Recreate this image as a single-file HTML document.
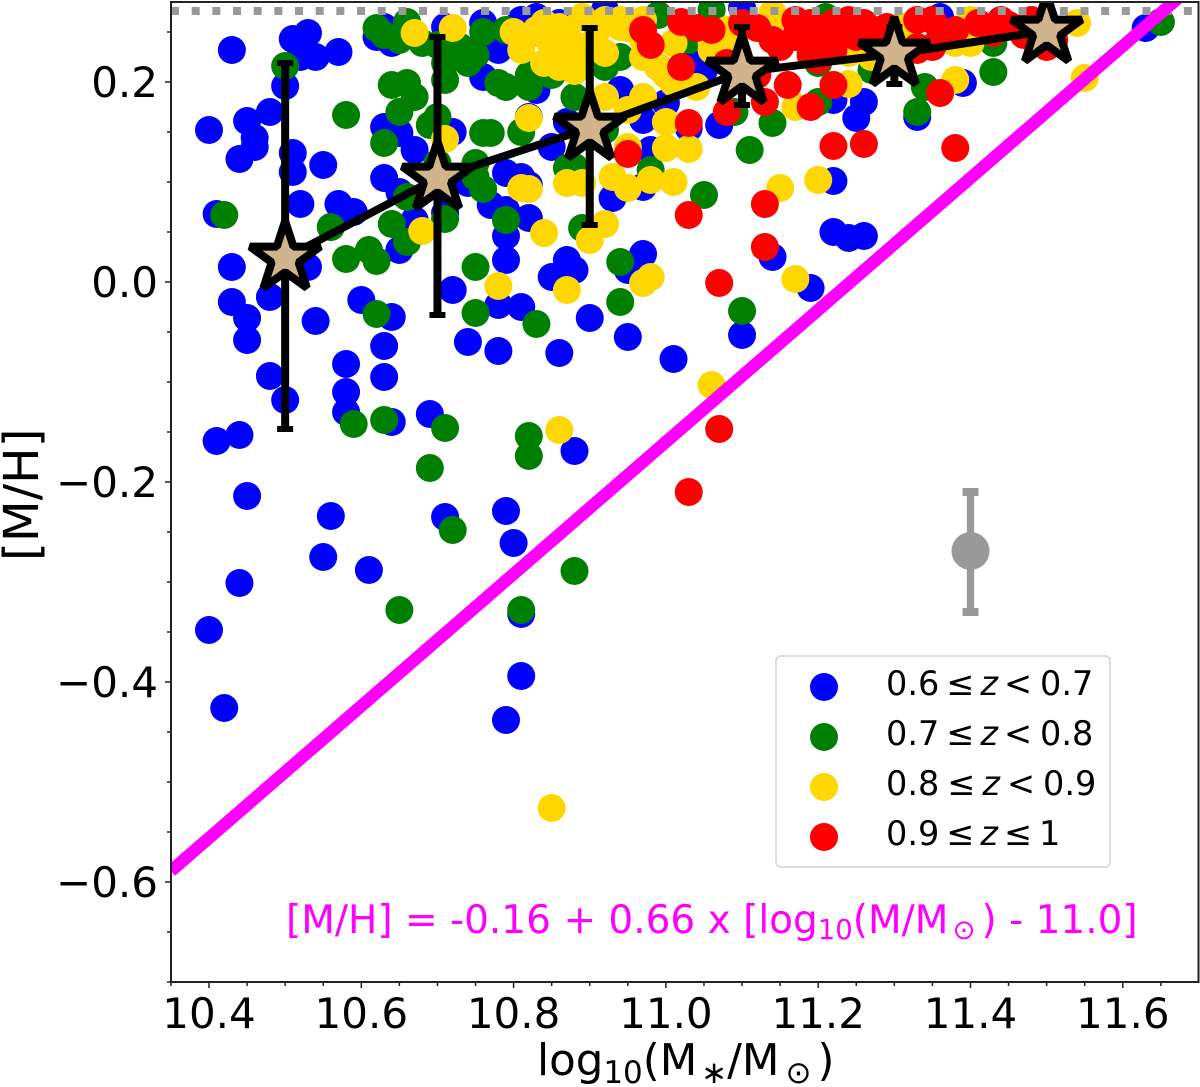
<!DOCTYPE html>
<html lang="en">
<head>
<meta charset="utf-8">
<title>Stellar metallicity vs stellar mass</title>
<style>
html,body{margin:0;padding:0;background:#fff;}
svg{display:block;}
text{font-family:"DejaVu Sans","Liberation Sans",sans-serif;fill:#000;}
</style>
</head>
<body>
<svg id="chart" xmlns="http://www.w3.org/2000/svg" width="1200" height="1087" viewBox="0 0 1200 1087">
  <defs>
    <clipPath id="plot-clip"><rect x="171" y="2" width="1027.5" height="980"/></clipPath>
  </defs>
  <rect x="0" y="0" width="1200" height="1087" fill="#fff"/>
  <g id="points" clip-path="url(#plot-clip)"></g>
  <g id="overlays" clip-path="url(#plot-clip)"></g>
  <rect x="171" y="2" width="1027.5" height="980" fill="none" stroke="#222" stroke-width="2"/>
  <g id="ticks"></g>

  <text x="537" y="1075" font-size="43.5">log<tspan font-size="31" dy="8">10</tspan><tspan dy="-8">(M</tspan><tspan font-size="31" dy="8" dx="4">∗</tspan><tspan dy="-8">/M</tspan><tspan font-size="31" dy="8" dx="6">⊙</tspan><tspan dy="-8" dx="6">)</tspan></text>
  <text transform="translate(38,561) rotate(-90)" font-size="48.5">[M/H]</text>

  <text x="286" y="933" font-size="39" style="fill:#ff00ff">[M/H] = -0.16 + 0.66 x [log<tspan font-size="27.5" dy="6">10</tspan><tspan dy="-6">(M/M</tspan><tspan font-size="27.5" dy="6" dx="4">⊙</tspan><tspan dy="-6" dx="6">) - 11.0]</tspan></text>

  <g>
    <rect x="776" y="656" width="334" height="211" rx="5" ry="5" fill="#fff" fill-opacity="0.9" stroke="#ddd" stroke-width="2"/>
    <circle cx="824" cy="687" r="14" fill="#0000ff"/>
    <circle cx="824" cy="737" r="14" fill="#008000"/>
    <circle cx="824" cy="787" r="14" fill="#ffd700"/>
    <circle cx="824" cy="837" r="14" fill="#ff0000"/>
    <text x="886" y="695" font-size="33.5">0.6<tspan dx="7">≤</tspan><tspan dx="6" font-style="italic">z</tspan><tspan dx="6">&lt;</tspan><tspan dx="8">0.7</tspan></text>
    <text x="886" y="745" font-size="33.5">0.7<tspan dx="7">≤</tspan><tspan dx="6" font-style="italic">z</tspan><tspan dx="6">&lt;</tspan><tspan dx="8">0.8</tspan></text>
    <text x="886" y="795" font-size="33.5">0.8<tspan dx="8">≤</tspan><tspan dx="7" font-style="italic">z</tspan><tspan dx="7">&lt;</tspan><tspan dx="8">0.9</tspan></text>
    <text x="886" y="845" font-size="33.5">0.9<tspan dx="7">≤</tspan><tspan dx="6" font-style="italic">z</tspan><tspan dx="6">≤</tspan><tspan dx="7">1</tspan></text>
  </g>
</svg>
<script>
const xTickLabels = ["10.4","10.6","10.8","11.0","11.2","11.4","11.6"];
const yTickLabels = ["0.2","0.0","−0.2","−0.4","−0.6"];
const yTickValues = [0.2,0,-0.2,-0.4,-0.6];

const pointsZ06 = [[10.40,-0.348],[10.42,-0.426],[10.44,-0.301],[10.45,-0.214],[10.41,-0.159],[10.44,-0.153],[10.50,-0.118],[10.48,-0.094],[10.48,-0.015],[10.43,-0.020],[10.43,0.015],[10.45,-0.058],[10.45,-0.036],[10.54,-0.039],[10.53,0.015],[10.58,-0.082],[10.58,-0.110],[10.58,-0.130],[10.60,-0.018],[10.63,-0.064],[10.63,-0.095],[10.64,-0.035],[10.64,-0.140],[10.55,-0.275],[10.56,-0.234],[10.61,-0.288],[10.69,-0.132],[10.71,-0.235],[10.79,-0.229],[10.80,-0.261],[10.81,-0.332],[10.81,-0.394],[10.79,-0.438],[10.88,-0.169],[10.72,-0.008],[10.74,-0.060],[10.78,-0.069],[10.78,-0.023],[10.81,-0.025],[10.86,-0.071],[10.90,-0.036],[10.95,-0.055],[11.01,-0.077],[11.10,-0.053],[11.19,-0.006],[11.14,0.025],[10.97,0.028],[10.95,0.012],[10.85,0.005],[10.87,0.022],[10.88,0.012],[10.79,0.022],[10.79,0.046],[10.79,0.072],[11.22,0.101],[11.22,0.050],[11.24,0.044],[11.26,0.046],[11.25,0.164],[10.43,0.232],[10.50,0.196],[10.51,0.243],[10.53,0.249],[10.52,0.225],[10.54,0.225],[10.57,0.230],[10.48,0.170],[10.45,0.161],[10.40,0.152],[10.46,0.144],[10.46,0.135],[10.44,0.123],[10.51,0.129],[10.51,0.110],[10.55,0.117],[10.52,0.078],[10.41,0.068],[10.57,0.078],[10.59,0.070],[10.56,0.055],[10.63,0.155],[10.65,0.149],[10.72,0.150],[10.67,0.132],[10.63,0.104],[10.65,0.090],[10.74,0.099],[10.71,0.069],[10.67,0.062],[10.65,0.032],[10.79,0.109],[10.81,0.105],[10.82,0.097],[10.77,0.077],[10.82,0.064],[10.85,0.135],[10.83,0.192],[10.82,0.165],[10.87,0.160],[10.76,0.205],[10.78,0.232],[10.62,0.245],[10.63,0.255],[10.64,0.239],[10.71,0.255],[10.76,0.259],[10.81,0.262],[10.83,0.265],[10.86,0.259],[10.88,0.229],[10.94,0.189],[11.00,0.179],[10.97,0.162],[11.03,0.154],[11.07,0.157],[10.98,0.132],[10.93,0.084],[10.97,0.095],[11.22,0.182],[11.26,0.180],[11.39,0.199],[11.33,0.165],[11.63,0.254],[11.36,0.265],[10.92,0.272],[11.10,0.274],[11.03,0.225],[11.05,0.212],[10.94,0.192]];

const pointsZ07 = [[10.50,0.216],[10.58,0.167],[10.42,0.067],[10.56,0.055],[10.58,0.023],[10.61,0.032],[10.62,0.021],[10.75,0.015],[10.64,0.197],[10.66,0.199],[10.67,0.185],[10.65,0.170],[10.63,0.139],[10.70,0.165],[10.69,0.157],[10.76,0.149],[10.77,0.149],[10.81,0.150],[10.75,0.119],[10.75,0.105],[10.76,0.093],[10.70,0.119],[10.64,0.058],[10.66,0.040],[10.66,0.085],[10.71,0.063],[10.79,0.062],[10.87,0.114],[10.62,0.254],[10.63,0.247],[10.65,0.242],[10.66,0.260],[10.68,0.239],[10.71,0.202],[10.71,0.219],[10.72,0.225],[10.74,0.219],[10.75,0.227],[10.76,0.250],[10.79,0.252],[10.78,0.199],[10.79,0.195],[10.82,0.195],[10.82,0.207],[10.85,0.207],[10.88,0.185],[10.92,0.215],[10.94,0.225],[10.99,0.215],[11.20,0.219],[11.27,0.212],[11.03,0.242],[10.99,0.267],[11.06,0.272],[11.21,0.265],[11.43,0.210],[11.65,0.260],[11.43,0.239],[11.34,0.195],[11.33,0.170],[10.89,0.054],[10.94,0.020],[10.94,-0.020],[11.05,0.087],[11.11,0.132],[11.14,0.159],[11.09,0.170],[11.20,0.180],[10.98,0.112],[10.88,0.115],[10.92,0.152],[10.88,0.185],[10.71,-0.146],[10.59,-0.142],[10.63,-0.138],[10.69,-0.186],[10.72,-0.248],[10.65,-0.328],[10.81,-0.328],[10.88,-0.289],[10.82,-0.154],[10.82,-0.174],[10.83,-0.042],[10.75,-0.031],[10.62,-0.032],[11.10,-0.029],[10.73,0.235],[10.70,0.237]];

const pointsZ08 = [[10.67,0.249],[10.72,0.254],[10.82,0.164],[10.71,0.143],[10.81,0.094],[10.82,0.093],[10.87,0.099],[10.68,0.051],[10.84,0.049],[10.78,-0.004],[10.87,-0.008],[10.80,0.250],[10.81,0.232],[10.83,0.249],[10.84,0.252],[10.86,0.245],[10.84,0.219],[10.86,0.215],[10.87,0.249],[10.89,0.265],[10.92,0.262],[10.92,0.229],[10.88,0.212],[10.95,0.254],[10.97,0.242],[10.97,0.225],[11.00,0.207],[11.04,0.195],[10.97,0.262],[11.07,0.239],[11.09,0.245],[10.92,0.185],[10.97,0.185],[10.95,0.172],[11.00,0.160],[11.00,0.134],[11.03,0.133],[10.95,0.135],[10.93,0.105],[10.95,0.094],[10.98,0.102],[11.01,0.100],[10.89,0.099],[10.92,0.058],[10.90,0.042],[10.98,0.005],[10.97,-0.001],[11.15,0.094],[11.20,0.102],[11.17,0.003],[11.17,0.175],[11.24,0.198],[11.38,0.202],[10.94,0.255],[11.14,0.269],[11.54,0.259],[11.55,0.204],[11.38,0.239],[11.40,0.239],[11.32,0.255],[10.85,-0.526],[10.86,-0.148],[11.06,-0.103],[10.90,0.237],[10.88,0.225],[11.01,0.199],[10.99,0.215],[11.06,0.232],[10.91,0.252],[10.94,0.262],[11.01,0.239],[11.06,0.239],[11.08,0.252],[11.14,0.262],[10.83,0.252],[10.84,0.259],[10.85,0.235],[10.88,0.211],[10.86,0.255],[11.24,0.229],[11.27,0.225],[11.40,0.262],[11.31,0.255]];

const pointsZ09 = [[10.97,0.252],[10.98,0.237],[11.02,0.215],[11.03,0.159],[10.95,0.128],[11.03,0.067],[11.13,0.078],[11.13,0.035],[11.07,-0.001],[11.08,0.170],[11.13,0.180],[11.16,0.197],[11.19,0.175],[11.22,0.197],[11.22,0.136],[11.26,0.138],[11.38,0.134],[11.36,0.189],[11.02,0.260],[11.04,0.254],[11.06,0.252],[11.10,0.259],[11.12,0.254],[11.14,0.242],[11.17,0.262],[11.17,0.245],[11.20,0.254],[11.22,0.232],[11.19,0.227],[11.25,0.260],[11.26,0.249],[11.28,0.252],[11.33,0.262],[11.35,0.262],[11.33,0.232],[11.36,0.252],[11.38,0.252],[11.33,0.235],[11.35,0.235],[11.41,0.259],[11.44,0.262],[11.48,0.262],[11.43,0.249],[11.50,0.235],[11.51,0.242],[11.45,0.257],[11.47,0.247],[11.07,-0.147],[11.03,-0.210],[11.19,0.259],[11.20,0.252],[11.22,0.259],[11.24,0.262],[11.26,0.259],[11.29,0.255],[11.19,0.232],[11.22,0.239],[11.25,0.245],[11.20,0.222],[11.15,0.235],[11.08,0.219],[11.12,0.207]];

const binMass = [10.5,10.7,10.9,11.1,11.3,11.5];
const binMedian = [0.024,0.104,0.154,0.210,0.228,0.251];
const binErrLow = [-0.147,-0.033,0.057,0.177,0.198,0.240];
const binErrHigh = [0.219,0.245,0.254,0.255,0.255,0.260];

const typicalMass = [11.4];
const typicalMetal = [-0.269];
const typicalErrLow = [-0.330];
const typicalErrHigh = [-0.210];

const fitIntercept = -0.16;
const fitSlope = 0.66;
const fitPivot = 11.0;
const solarCeiling = 0.271;

const NS = 'http://www.w3.org/2000/svg';
function xScale(v){ return 209 + (v - 10.4) * 761.5; }
function yScale(v){ return 282 - v * 1000; }
function mk(parent, tag, attrs){
  const el = document.createElementNS(NS, tag);
  for (const k in attrs) el.setAttribute(k, attrs[k]);
  parent.appendChild(el);
  return el;
}

const pointsLayer = document.getElementById('points');
function drawSeries(data, color, seriesName){
  data.forEach(function(p){
    const c = mk(pointsLayer, 'circle', {cx: xScale(p[0]), cy: yScale(p[1]), r: 14, fill: color});
    
    
  });
}
drawSeries(pointsZ06, '#0000ff', 'point-z06');
drawSeries(pointsZ07, '#008000', 'point-z07');
drawSeries(pointsZ08, '#ffd700', 'point-z08');
drawSeries(pointsZ09, '#ff0000', 'point-z09');

const ov = document.getElementById('overlays');

const ceiling = mk(ov, 'line', {x1: 171, x2: 1199, y1: yScale(solarCeiling), y2: yScale(solarCeiling), stroke: '#999', 'stroke-width': 8, 'stroke-dasharray': '8 12.67'});



const fitX0 = 10.35, fitX1 = 11.7;
const fit = mk(ov, 'line', {x1: xScale(fitX0), y1: yScale(fitIntercept + fitSlope * (fitX0 - fitPivot)), x2: xScale(fitX1), y2: yScale(fitIntercept + fitSlope * (fitX1 - fitPivot)), stroke: '#ff00ff', 'stroke-width': 12.5});



function errorBar(xv, lo, hi, color, sw, capW, capH, name){
  const x = xScale(xv);
  const g = mk(ov, 'g', {});
  
  
  mk(g, 'line', {x1: x, x2: x, y1: yScale(lo), y2: yScale(hi), stroke: color, 'stroke-width': sw});
  mk(g, 'rect', {x: x - capW / 2, y: yScale(lo) - capH / 2, width: capW, height: capH, fill: color});
  mk(g, 'rect', {x: x - capW / 2, y: yScale(hi) - capH / 2, width: capW, height: capH, fill: color});
}

binMass.forEach(function(m, i){
  errorBar(m, binErrLow[i], binErrHigh[i], '#000', 8, 16, 6, 'median-error-bar');
});

const medianLine = mk(ov, 'polyline', {points: binMass.map(function(m, i){ return xScale(m) + ',' + yScale(binMedian[i]); }).join(' '), fill: 'none', stroke: '#000', 'stroke-width': 8});



function starPoints(cx, cy, R){
  const r = R * 0.381966, pts = [];
  for (let i = 0; i < 10; i++){
    const a = -Math.PI / 2 + i * Math.PI / 5, d = i % 2 ? r : R;
    pts.push((cx + d * Math.cos(a)).toFixed(2) + ',' + (cy + d * Math.sin(a)).toFixed(2));
  }
  return pts.join(' ');
}
binMass.forEach(function(m, i){
  const s = mk(ov, 'polygon', {points: starPoints(xScale(m), yScale(binMedian[i]), 37), fill: '#d2b48c', stroke: '#000', 'stroke-width': 8, 'stroke-linejoin': 'bevel'});
  
  
});

errorBar(typicalMass[0], typicalErrLow[0], typicalErrHigh[0], '#999', 7.3, 16, 8, 'typical-error-bar');
const typical = mk(ov, 'circle', {cx: xScale(typicalMass[0]), cy: yScale(typicalMetal[0]), r: 19, fill: '#999'});



const ticks = document.getElementById('ticks');
function tickLine(x1, y1, x2, y2, w){
  const t = mk(ticks, 'line', {x1: x1, y1: y1, x2: x2, y2: y2, stroke: '#222', 'stroke-width': w});
  
  
}
for (let i = 0; i <= 26; i++){
  const v = 10.35 + i * 0.05;
  tickLine(xScale(v), 982, xScale(v), i % 4 === 1 ? 988 : 986, 1.5);
}
for (let i = 0; i <= 19; i++){
  const v = -0.7 + i * 0.05;
  tickLine(171, yScale(v), i % 4 === 2 ? 165 : 167, yScale(v), 1.5);
}
xTickLabels.forEach(function(label){
  const t = mk(ticks, 'text', {x: xScale(parseFloat(label)), y: 1028, 'font-size': 42, 'text-anchor': 'middle'});
  t.textContent = label;
  
  
});
yTickLabels.forEach(function(label, i){
  const t = mk(ticks, 'text', {x: 158, y: yScale(yTickValues[i]) + 15, 'font-size': 42, 'text-anchor': 'end'});
  t.textContent = label;
  
  
});
</script>
</body>
</html>
